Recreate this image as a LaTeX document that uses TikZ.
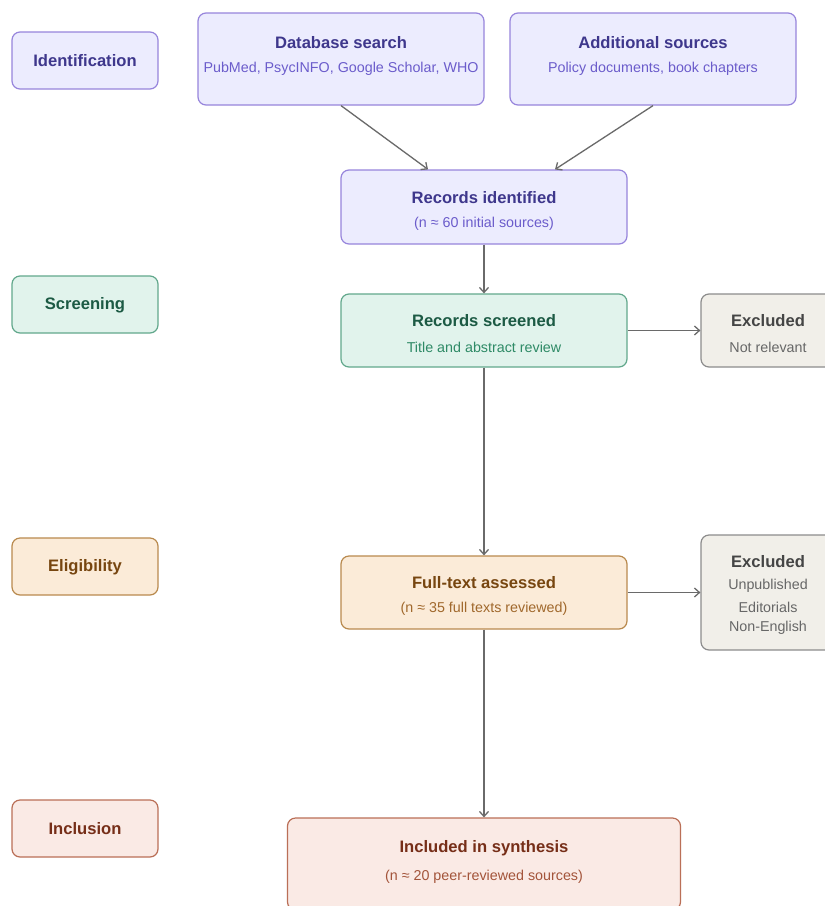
\documentclass[tikz,border=0pt]{standalone}
\usepackage{fontspec}
\setmainfont{Liberation Sans}
\usetikzlibrary{arrows.meta,calc}
\definecolor{pfill}{HTML}{ECECFE}
\definecolor{pdraw}{HTML}{9785DC}
\definecolor{ptitle}{HTML}{3E378C}
\definecolor{psub}{HTML}{6B5CCB}
\definecolor{gfill}{HTML}{E1F3EC}
\definecolor{gdraw}{HTML}{62A88C}
\definecolor{gtitle}{HTML}{1C5A44}
\definecolor{gsub}{HTML}{2E8A66}
\definecolor{ofill}{HTML}{FBEBD8}
\definecolor{odraw}{HTML}{B98A4E}
\definecolor{otitle}{HTML}{774610}
\definecolor{osub}{HTML}{A0682C}
\definecolor{rfill}{HTML}{FAEAE5}
\definecolor{rdraw}{HTML}{BA6F57}
\definecolor{rtitle}{HTML}{762E18}
\definecolor{rsub}{HTML}{A3543A}
\definecolor{xfill}{HTML}{F1EFE9}
\definecolor{xdraw}{HTML}{8C8C8C}
\definecolor{xtitle}{HTML}{454545}
\definecolor{xsub}{HTML}{676767}
\definecolor{arr}{HTML}{6A6A6A}
\tikzset{
  box/.style={draw, line width=1.2pt, rounded corners=8pt, inner sep=0pt},
  ttl/.style={font=\fontsize{16.6}{18}\selectfont\bfseries, inner sep=0pt, anchor=center},
  sub/.style={font=\fontsize{14.3}{16}\selectfont, inner sep=0pt, anchor=center},
  conn/.style={draw=arr, line width=1.3pt, -{Straight Barb[length=5pt,width=9pt]}},
}
\begin{document}
\begin{tikzpicture}[x=1pt,y=-1pt]
\useasboundingbox (0,0) rectangle (825,906);
\fill[white] (0,0) rectangle (825,906);
% stage labels
\node[box, fill=pfill, draw=pdraw, minimum width=146pt, minimum height=57pt] (lid) at (85,60.5) {};
\node[ttl, text=ptitle] (lidt) at (85,61) {Identification};
\node[box, fill=gfill, draw=gdraw, minimum width=146pt, minimum height=57pt] (lsc) at (85,304.5) {};
\node[ttl, text=gtitle] (lsct) at (85,305) {Screening};
\node[box, fill=ofill, draw=odraw, minimum width=146pt, minimum height=57pt] (lel) at (85,566.5) {};
\node[ttl, text=otitle] (lelt) at (85,567) {Eligibility};
\node[box, fill=rfill, draw=rdraw, minimum width=146pt, minimum height=57pt] (lin) at (85,828.5) {};
\node[ttl, text=rtitle] (lint) at (85,829) {Inclusion};
% main boxes
\node[box, fill=pfill, draw=pdraw, minimum width=286pt, minimum height=92pt] (db) at (341,59) {};
\node[ttl, text=ptitle] (dbt) at (341,43) {Database search};
\node[sub, text=psub] (dbs) at (341,69) {PubMed, PsycINFO, Google Scholar, WHO};
\node[box, fill=pfill, draw=pdraw, minimum width=286pt, minimum height=92pt] (add) at (653,59) {};
\node[ttl, text=ptitle] (addt) at (653,43) {Additional sources};
\node[sub, text=psub] (adds) at (653,69) {Policy documents, book chapters};
\node[box, fill=pfill, draw=pdraw, minimum width=286pt, minimum height=74pt] (rid) at (484,207) {};
\node[ttl, text=ptitle] (ridt) at (484,198) {Records identified};
\node[sub, text=psub] (rids) at (484,224) {(n ≈ 60 initial sources)};
\node[box, fill=gfill, draw=gdraw, minimum width=286pt, minimum height=73pt] (rsc) at (484,330.5) {};
\node[ttl, text=gtitle] (rsct) at (484,321) {Records screened};
\node[sub, text=gsub] (rscs) at (484,347) {Title and abstract review};
\node[box, fill=xfill, draw=xdraw, minimum width=134pt, minimum height=73pt] (ex1) at (768,330.5) {};
\node[ttl, text=xtitle] (ex1t) at (768,321) {Excluded};
\node[sub, text=xsub] (ex1s) at (768,347) {Not relevant};
\node[box, fill=ofill, draw=odraw, minimum width=286pt, minimum height=73pt] (ft) at (484,592.5) {};
\node[ttl, text=otitle] (ftt) at (484,583) {Full-text assessed};
\node[sub, text=osub] (fts) at (484,609) {(n ≈ 35 full texts reviewed)};
\node[box, fill=xfill, draw=xdraw, minimum width=134pt, minimum height=115pt] (ex2) at (768,592.5) {};
\node[ttl, text=xtitle] (ex2t) at (768,562) {Excluded};
\node[sub, text=xsub] (ex2a) at (768,586) {Unpublished};
\node[sub, text=xsub] (ex2b) at (768,607) {Editorials};
\node[sub, text=xsub] (ex2c) at (768,628) {Non-English};
\node[box, fill=rfill, draw=rdraw, minimum width=393pt, minimum height=92pt] (inc) at (484,864) {};
\node[ttl, text=rtitle] (inct) at (484,848) {Included in synthesis};
\node[sub, text=rsub] (incs) at (484,877) {(n ≈ 20 peer-reviewed sources)};
% connectors
\draw[conn] (db.south) -- ($(rid.north)+(-56,0)$);
\draw[conn] (add.south) -- ($(rid.north)+(71,0)$);
\draw[conn] (rid.south) -- (rsc.north);
\draw[conn] (rsc.east) -- (ex1.west);
\draw[conn] (rsc.south) -- (ft.north);
\draw[conn] (ft.east) -- (ex2.west);
\draw[conn] (ft.south) -- (inc.north);
\end{tikzpicture}
\end{document}
